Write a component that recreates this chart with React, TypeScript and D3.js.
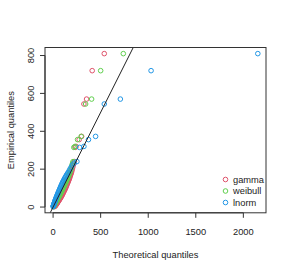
import React from "react";
import * as d3 from "d3";

// empirical quantiles (sorted sample)
const empirical = [
  2, 4, 6, 8, 10, 12, 14, 17, 20, 23, 26, 30, 33, 37, 40, 44, 48, 52, 56, 60,
  65, 70, 75, 80, 86, 92, 98, 104, 110, 116, 122, 128, 134, 140, 146, 152, 158,
  164, 170, 176, 182, 190, 200, 210, 222, 232, 240, 315, 320, 356, 373, 544,
  570, 720, 810,
];

// theoretical quantiles of each fitted distribution
const gammaQ = [
  14, 18, 22, 25, 28, 31, 34, 38, 42, 46, 50, 55, 59, 64, 68, 73, 78, 83, 87,
  92, 97, 102, 107, 112, 118, 124, 129, 134, 139, 144, 149, 154, 159, 163, 168,
  172, 176, 180, 184, 188, 192, 197, 202, 207, 213, 218, 224, 232, 242, 274,
  300, 324, 352, 411, 538,
];
const weibullQ = [
  4, 6, 8, 10, 12, 15, 17, 20, 23, 27, 30, 34, 38, 42, 45, 50, 54, 58, 63, 67,
  72, 77, 82, 87, 93, 99, 104, 110, 115, 121, 126, 132, 137, 142, 147, 152, 157,
  162, 167, 171, 176, 182, 188, 193, 199, 205, 210, 218, 230, 257, 295, 342,
  405, 500, 738,
];
const lnormQ = [
  1, 2, 3, 4, 5, 7, 8, 10, 12, 14, 16, 19, 21, 24, 26, 29, 32, 35, 38, 41, 45,
  49, 53, 57, 62, 67, 72, 77, 82, 87, 93, 98, 104, 110, 116, 122, 129, 136,
  143, 150, 158, 167, 177, 189, 203, 222, 250, 278, 324, 372, 447, 538, 707,
  1030, 2152,
];

const seriesNames = ["gamma", "weibull", "lnorm"];
const seriesColors = ["#DF536B", "#61D04F", "#2297E6"];
const xTicks = [0, 500, 1000, 1500, 2000];
const yTicks = [0, 200, 400, 600, 800];

const W = 289;
const H = 273;
const box = { left: 45, right: 266, top: 47.5, bottom: 212.8 };
const font = "'Liberation Sans', Arial, Helvetica, sans-serif";
const fs = 9.3;

function pad(ext: [number, number]): [number, number] {
  const d = ext[1] - ext[0];
  return [ext[0] - 0.04 * d, ext[1] + 0.04 * d];
}

export default function App() {
  const allX = [...gammaQ, ...weibullQ, ...lnormQ];
  const xs = d3
    .scaleLinear()
    .domain(pad(d3.extent(allX) as [number, number]))
    .range([box.left, box.right]);
  const ys = d3
    .scaleLinear()
    .domain(pad(d3.extent(empirical) as [number, number]))
    .range([box.bottom, box.top]);

  const series = [gammaQ, weibullQ, lnormQ];
  const [yd0, yd1] = ys.domain();

  return (
    <svg
      width={W}
      height={H}
      style={{ position: "absolute", left: 0, top: 0, background: "#fff" }}
    >
      <defs>
        <clipPath id="plotclip">
          <rect
            x={box.left}
            y={box.top}
            width={box.right - box.left}
            height={box.bottom - box.top}
          />
        </clipPath>
      </defs>

      {/* points */}
      {series.map((s, i) => (
        <g key={seriesNames[i]} fill="none" stroke={seriesColors[i]} strokeWidth={1}>
          {s.map((v, j) => (
            <circle key={j} cx={xs(v)} cy={ys(empirical[j])} r={2.3} />
          ))}
        </g>
      ))}

      {/* y = x reference */}
      <line
        clipPath="url(#plotclip)"
        x1={xs(yd0)}
        y1={ys(yd0)}
        x2={xs(yd1)}
        y2={ys(yd1)}
        stroke="#222"
        strokeWidth={1}
      />

      {/* frame */}
      <rect
        x={box.left}
        y={box.top}
        width={box.right - box.left}
        height={box.bottom - box.top}
        fill="none"
        stroke="#333"
        strokeWidth={1}
      />

      {/* x axis */}
      <g stroke="#333" strokeWidth={1}>
        <line x1={xs(xTicks[0])} x2={xs(xTicks[xTicks.length - 1])} y1={box.bottom} y2={box.bottom} />
        {xTicks.map((t) => (
          <line key={t} x1={xs(t)} x2={xs(t)} y1={box.bottom} y2={box.bottom + 5} />
        ))}
      </g>
      {xTicks.map((t) => (
        <text
          key={t}
          x={xs(t)}
          y={235}
          textAnchor="middle"
          fontFamily={font}
          fontSize={fs}
          fill="#222"
        >
          {t}
        </text>
      ))}

      {/* y axis */}
      <g stroke="#333" strokeWidth={1}>
        <line x1={box.left} x2={box.left} y1={ys(yTicks[0])} y2={ys(yTicks[yTicks.length - 1])} />
        {yTicks.map((t) => (
          <line key={t} x1={box.left - 5} x2={box.left} y1={ys(t)} y2={ys(t)} />
        ))}
      </g>
      {yTicks.map((t) => (
        <text
          key={t}
          transform={`translate(34,${ys(t)}) rotate(-90)`}
          textAnchor="middle"
          fontFamily={font}
          fontSize={fs}
          fill="#222"
        >
          {t}
        </text>
      ))}

      {/* axis titles */}
      <text
        x={(box.left + box.right) / 2}
        y={258}
        textAnchor="middle"
        fontFamily={font}
        fontSize={fs}
        fill="#222"
      >
        Theoretical quantiles
      </text>
      <text
        transform={`translate(13.5,${(box.top + box.bottom) / 2}) rotate(-90)`}
        textAnchor="middle"
        fontFamily={font}
        fontSize={fs}
        fill="#222"
      >
        Empirical quantiles
      </text>

      {/* legend */}
      {seriesNames.map((n, i) => (
        <g key={n} transform={`translate(225.5,${179.5 + i * 11.5})`}>
          <circle r={2.3} fill="none" stroke={seriesColors[i]} strokeWidth={1} />
          <text x={7.5} y={3.3} fontFamily={font} fontSize={fs} fill="#222">
            {n}
          </text>
        </g>
      ))}
    </svg>
  );
}
